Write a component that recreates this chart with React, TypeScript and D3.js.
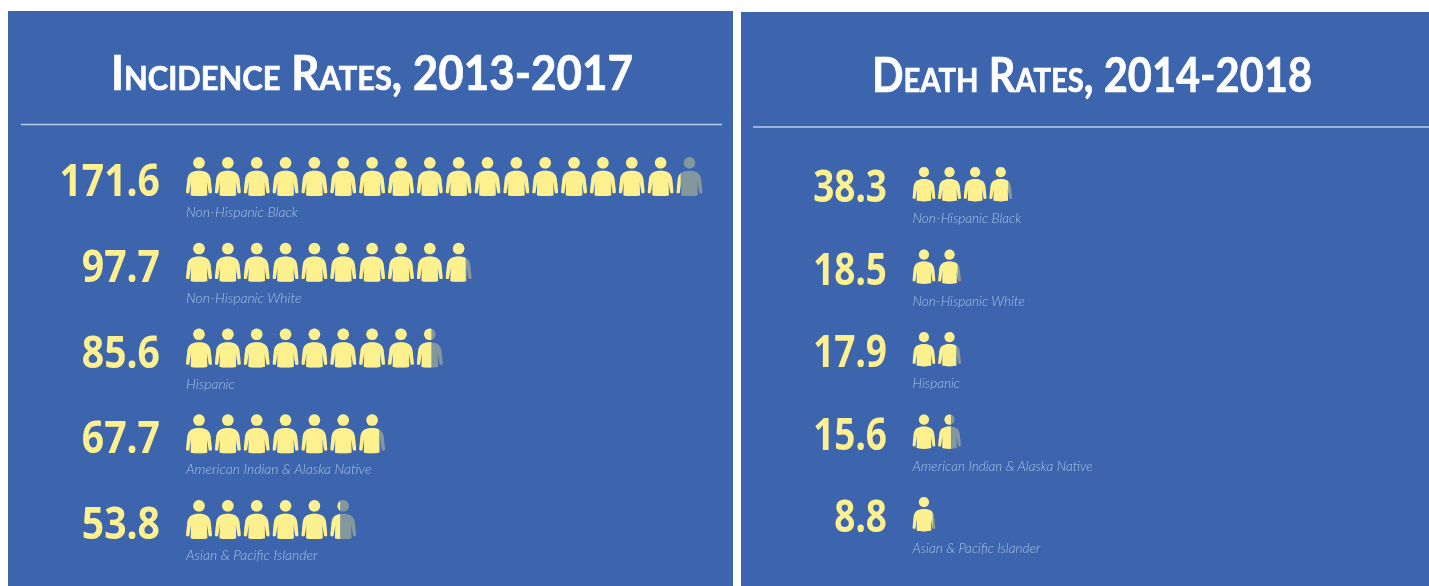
import React from "react";
import * as d3 from "d3";

const W = 1429, H = 586;
const groups = ["Non-Hispanic Black", "Non-Hispanic White", "Hispanic", "American Indian & Alaska Native", "Asian & Pacific Islander"];
const incidenceValues = [171.6, 97.7, 85.6, 67.7, 53.8];
const deathValues = [38.3, 18.5, 17.9, 15.6, 8.8];
const incidenceTitle = "Incidence Rates, 2013-2017";
const deathTitle = "Death Rates, 2014-2018";
const PER_ICON = 10;

const BG = "#3d65ae", YEL = "#fdf08f", GREY = "#83979f", LAB = "#a5c0e6", RULE = "#b9cce8";

const BODY = "M9.5 14 C11 13.5 15 13.5 16.5 14 C21.5 15 23.9 17.5 24.6 22 L26 35 C26 36.6 23.2 36.8 22.7 35.4 L20.9 24.5 L21.3 38.2 C17 39.4 9 39.4 4.7 38.2 L5.1 24.5 L3.3 35.4 C2.8 36.8 0 36.6 0 35 L1.4 22 C2.1 17.5 4.5 15 9.5 14 Z";

function Person({ x, y, s, fill, color, id }: any) {
  return (
    <g transform={`translate(${x},${y}) scale(${s})`}>
      <g fill={GREY}><circle cx={13} cy={5.8} r={5.8} /><path d={BODY} /></g>
      <clipPath id={id}><rect x={0} y={-1} width={26 * fill} height={42} /></clipPath>
      <g fill={color} clipPath={`url(#${id})`}><circle cx={13} cy={5.8} r={5.8} /><path d={BODY} /></g>
    </g>
  );
}

function Panel({ pid, x0, x1, top, title, titleX, titleY, titleSize, titleLen, ruleX0, ruleX1, ruleY, values, numRight, numSize, numStretch, iconX, pitch, iconScale, rowY, numOffset, labOffset, labSize }: any) {
  const y = d3.scalePoint<string>().domain(groups).range(rowY);
  const xUnits = d3.scaleLinear().domain([0, PER_ICON]).range([0, pitch]);
  return (
    <g>
      <rect x={x0} y={top} width={x1 - x0} height={H - top} fill={BG} />
      <text x={titleX} y={titleY} textAnchor="middle" fill="#fff" stroke="#fff" strokeWidth={0.7} fontFamily="Lato, 'Open Sans', sans-serif" fontWeight={700} fontSize={titleSize} textLength={titleLen} lengthAdjust="spacingAndGlyphs" style={{ fontVariant: "small-caps" }}>{title}</text>
      <line x1={ruleX0} x2={ruleX1} y1={ruleY} y2={ruleY} stroke={RULE} strokeWidth={1.3} />
      {groups.map((g, i) => {
        const v = values[i];
        const n = Math.ceil(v / PER_ICON);
        const ry = y(g)!;
        return (
          <g key={g}>
            <text transform={`translate(${numRight},${ry + numOffset}) scale(${numStretch},1)`} textAnchor="end" fill={YEL} fontFamily="'Noto Sans', sans-serif" fontWeight={700} fontSize={numSize}>{v.toFixed(1)}</text>
            {d3.range(n).map((k) => (
              <Person key={k} id={`${pid}-${i}-${k}`} x={iconX + xUnits(k * PER_ICON)} y={ry} s={iconScale} color={YEL}
                fill={Math.min(1, v / PER_ICON - k)} />
            ))}
            <text x={iconX} y={ry + labOffset} fill={LAB} fontFamily="Lato, sans-serif" fontStyle="italic" fontWeight={300} fontSize={labSize}>{g}</text>
          </g>
        );
      })}
    </g>
  );
}

export default function App() {
  return (
    <svg width={W} height={H} viewBox={`0 0 ${W} ${H}`} style={{ position: "absolute", left: 0, top: 0, background: "#fff" }}>
      <filter id="soft" x="0" y="0" width="100%" height="100%"><feGaussianBlur stdDeviation={0.45} /></filter>
      <g filter="url(#soft)">
        <Panel pid="a" x0={8} x1={733} top={11} title={incidenceTitle} titleX={372} titleY={90} titleSize={47} titleLen={522}
          ruleX0={21} ruleX1={722} ruleY={124.5} values={incidenceValues} numRight={160} numSize={45} numStretch={0.87} iconX={186} pitch={28.85} iconScale={1}
          rowY={[157, 500]} numOffset={39} labOffset={60} labSize={14} />
        <Panel pid="b" x0={741} x1={1429} top={12} title={deathTitle} titleX={1092} titleY={92} titleSize={47} titleLen={440}
          ruleX0={753} ruleX1={1429} ruleY={127} values={deathValues} numRight={887} numSize={44} numStretch={0.84} iconX={912.5} pitch={25.6} iconScale={0.88}
          rowY={[167, 497]} numOffset={35} labOffset={56} labSize={13.6} />
      </g>
    </svg>
  );
}
